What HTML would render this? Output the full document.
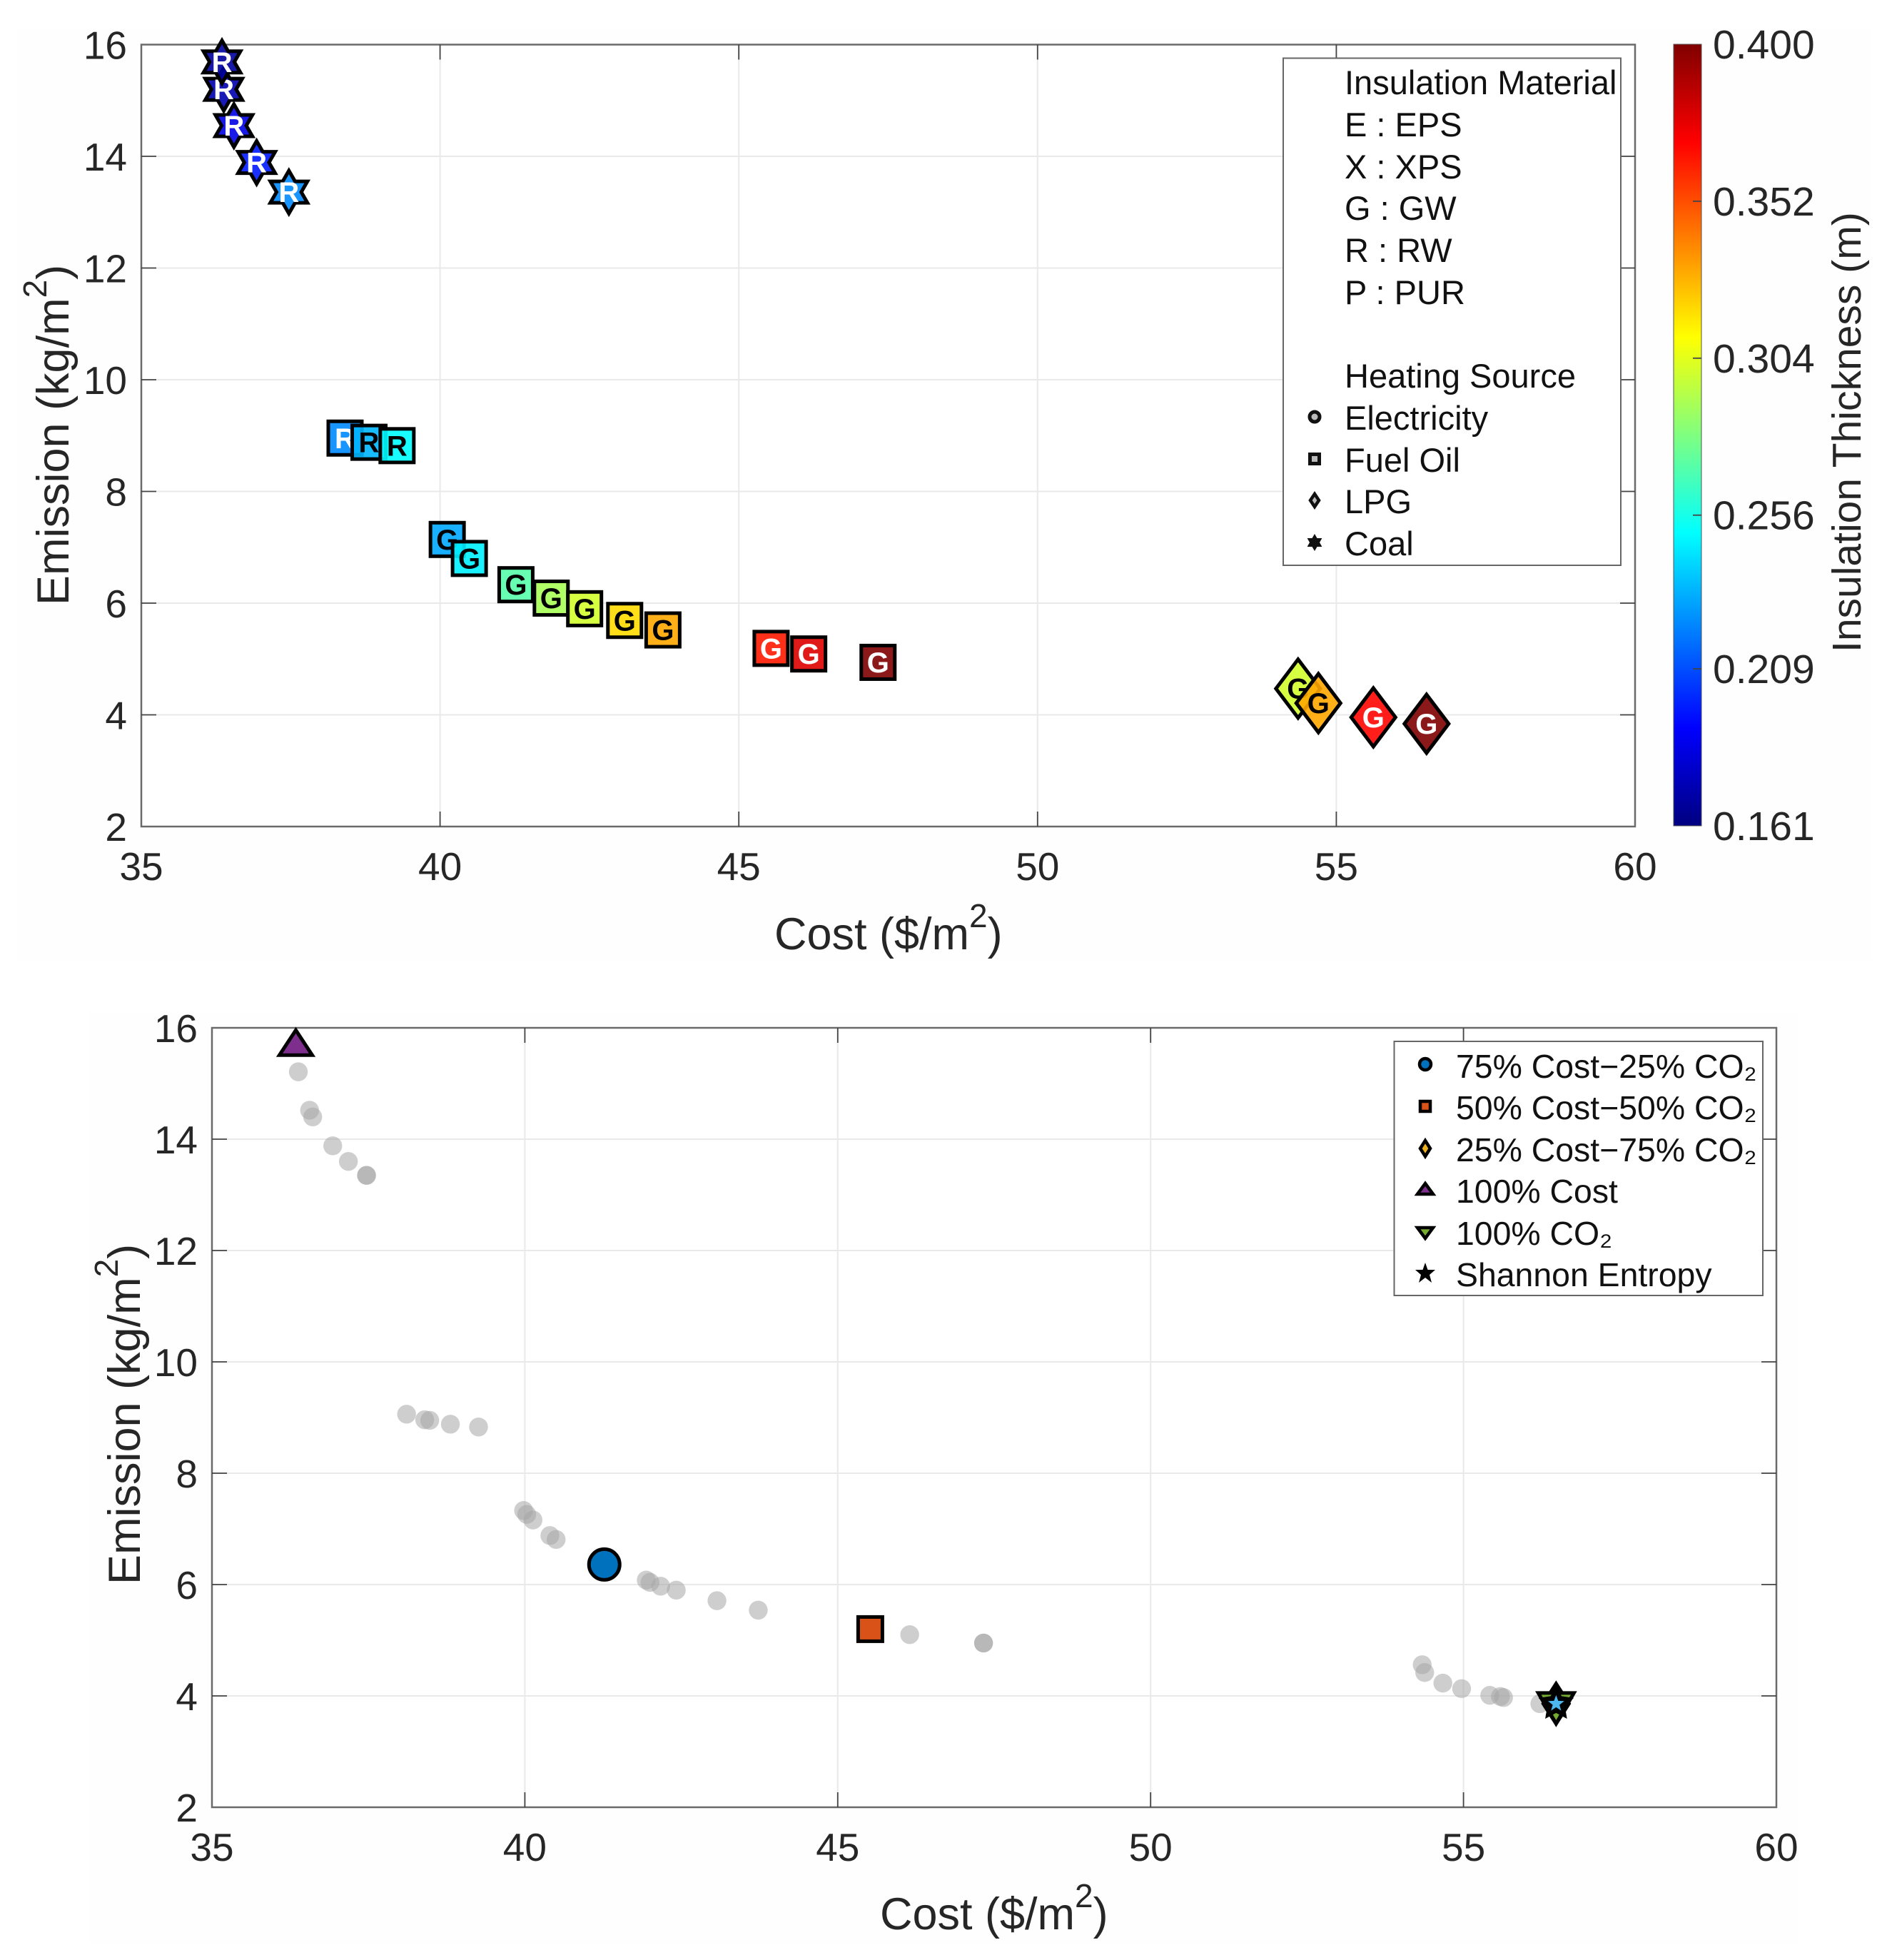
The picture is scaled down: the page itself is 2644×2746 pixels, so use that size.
<!DOCTYPE html>
<html lang="en">
<head>
<meta charset="utf-8">
<title>Cost versus emission Pareto charts</title>
<style>
html,body{margin:0;padding:0;background:#fff;}
svg{display:block;font-family:"Liberation Sans",Arial,sans-serif;}
.tick{font-size:55px;fill:#262626;}
.cbar-tick{font-size:57px;fill:#262626;}
.axis-title{font-size:63px;fill:#262626;}
.legend-text{font-size:47px;fill:#111;}
.legend-text-b{font-size:46.4px;fill:#111;}
</style>
</head>
<body>
<svg id="figure" xmlns="http://www.w3.org/2000/svg" width="2644" height="2746" viewBox="0 0 2644 2746">
  <defs>
    <linearGradient id="jet-gradient" x1="0" y1="1" x2="0" y2="0">
      <stop offset="0" stop-color="#000080"/>
      <stop offset="0.125" stop-color="#0000ff"/>
      <stop offset="0.375" stop-color="#00ffff"/>
      <stop offset="0.625" stop-color="#ffff00"/>
      <stop offset="0.875" stop-color="#ff0000"/>
      <stop offset="1" stop-color="#800000"/>
    </linearGradient>
  </defs>
  <rect x="25" y="39" width="2596" height="1308" fill="#fefefe"/>
  <rect x="125" y="1418" width="2395" height="1304" fill="#fefefe"/>
  <g id="top-plot"></g>
  <g id="bottom-plot"></g>

  <text class="axis-title" x="1085" y="1330">Cost ($/m<tspan font-size="46" dy="-31">2</tspan><tspan dy="31">)</tspan></text>
  <text class="axis-title" transform="translate(96,848) rotate(-90)">Emission (kg/m<tspan font-size="46" dy="-31">2</tspan><tspan dy="31">)</tspan></text>
  <text class="axis-title" x="1233" y="2703">Cost ($/m<tspan font-size="46" dy="-31">2</tspan><tspan dy="31">)</tspan></text>
  <text class="axis-title" transform="translate(196,2220) rotate(-90)">Emission (kg/m<tspan font-size="46" dy="-31">2</tspan><tspan dy="31">)</tspan></text>

  <rect x="2345" y="62" width="39" height="1095" fill="url(#jet-gradient)" stroke="#555" stroke-width="1"/>
  <g id="colorbar-ticks"></g>
  <text font-size="57" fill="#262626" transform="translate(2607,914) rotate(-90)">Insulation Thickness (m)</text>

  <g>
    <rect x="1798" y="81.5" width="473" height="710.5" fill="#fff" stroke="#666" stroke-width="2"/>
    <text class="legend-text" x="1884" y="132">Insulation Material</text>
    <text class="legend-text" x="1884" y="191">E : EPS</text>
    <text class="legend-text" x="1884" y="250">X : XPS</text>
    <text class="legend-text" x="1884" y="308">G : GW</text>
    <text class="legend-text" x="1884" y="367">R : RW</text>
    <text class="legend-text" x="1884" y="426">P : PUR</text>
    <text class="legend-text" x="1884" y="543">Heating Source</text>
    <text class="legend-text" x="1884" y="602">Electricity</text>
    <text class="legend-text" x="1884" y="661">Fuel Oil</text>
    <text class="legend-text" x="1884" y="719">LPG</text>
    <text class="legend-text" x="1884" y="778">Coal</text>
    <circle cx="1842" cy="584" r="7" fill="#bbb" stroke="#111" stroke-width="5"/>
    <rect x="1835.5" y="636.5" width="13" height="13" fill="#bbb" stroke="#111" stroke-width="5"/>
    <polygon points="1842,692 1848,701 1842,710 1836,701" fill="#bbb" stroke="#111" stroke-width="4.5"/>
    <polygon points="1842,748 1845.5,754 1852.4,754 1849,760 1852.4,766 1845.5,766 1842,772 1838.5,766 1831.6,766 1835,760 1831.6,754 1838.5,754" fill="#111"/>
  </g>

  <g>
    <rect x="1953.5" y="1459" width="516.5" height="356" fill="#fff" stroke="#666" stroke-width="2"/>
    <text class="legend-text-b" x="2040" y="1510">75% Cost−25% CO₂</text>
    <text class="legend-text-b" x="2040" y="1568">50% Cost−50% CO₂</text>
    <text class="legend-text-b" x="2040" y="1627">25% Cost−75% CO₂</text>
    <text class="legend-text-b" x="2040" y="1685">100% Cost</text>
    <text class="legend-text-b" x="2040" y="1744">100% CO₂</text>
    <text class="legend-text-b" x="2040" y="1802">Shannon Entropy</text>
    <circle cx="1997" cy="1491" r="8" fill="#0072bd" stroke="#000" stroke-width="4.5"/>
    <rect x="1990" y="1543" width="14" height="14" fill="#d95319" stroke="#000" stroke-width="4.5"/>
    <polygon points="1997,1598 2004,1609 1997,1620 1990,1609" fill="#edb120" stroke="#000" stroke-width="4.5"/>
    <polygon points="1997,1658 2008,1673 1986,1673" fill="#7e2f8e" stroke="#000" stroke-width="4.5"/>
    <polygon points="1986,1720 2008,1720 1997,1735" fill="#77ac30" stroke="#000" stroke-width="4.5"/>
    <polygon points="1997,1769 2000.5,1779 2011,1779 2003,1786 2006,1797 1997,1790 1988,1797 1991,1786 1983,1779 1993.5,1779" fill="#000"/>
  </g>
</svg>
<script>
// Axis tick values
const xTickValues = [35, 40, 45, 50, 55, 60];
const yTickValues = [2, 4, 6, 8, 10, 12, 14, 16];
const colorbarTickValues = [0.161, 0.209, 0.256, 0.304, 0.352, 0.4];
const colorbarTickLabels = ['0.161', '0.209', '0.256', '0.304', '0.352', '0.400'];

// Top chart, in drawing order
const topCost = [37.47, 36.93, 36.55, 36.38, 36.35, 38.41, 38.81, 39.28, 40.12, 40.49, 41.27, 41.86, 42.42, 43.09, 43.73, 45.54, 46.17, 47.33, 54.36, 54.70, 55.62, 56.51];
const topEmission = [13.36, 13.89, 14.55, 15.20, 15.69, 8.955, 8.88, 8.82, 7.14, 6.80, 6.33, 6.09, 5.90, 5.69, 5.52, 5.19, 5.09, 4.94, 4.47, 4.21, 3.955, 3.84];
const topThickness = [0.223, 0.197, 0.185, 0.172, 0.168, 0.223, 0.233, 0.25, 0.230, 0.247, 0.271, 0.290, 0.30, 0.319, 0.331, 0.364, 0.378, 0.4, 0.30, 0.331, 0.369, 0.4];
const topMaterial = ['R', 'R', 'R', 'R', 'R', 'R', 'R', 'R', 'G', 'G', 'G', 'G', 'G', 'G', 'G', 'G', 'G', 'G', 'G', 'G', 'G', 'G'];
const topSource = ['Coal', 'Coal', 'Coal', 'Coal', 'Coal', 'Fuel Oil', 'Fuel Oil', 'Fuel Oil', 'Fuel Oil', 'Fuel Oil', 'Fuel Oil', 'Fuel Oil', 'Fuel Oil', 'Fuel Oil', 'Fuel Oil', 'Fuel Oil', 'Fuel Oil', 'Fuel Oil', 'LPG', 'LPG', 'LPG', 'LPG'];

// Bottom chart, all solutions in grey
const allCost = [36.38, 36.56, 36.61, 36.93, 37.18, 37.47, 37.47, 38.11, 38.40, 38.48, 38.81, 39.26, 39.98, 40.03, 40.13, 40.40, 40.50, 41.94, 42.00, 42.17, 42.42, 43.07, 43.73, 46.15, 47.33, 47.33, 54.34, 54.38, 54.67, 54.97, 55.42, 55.59, 55.64, 56.22];
const allEmission = [15.21, 14.52, 14.40, 13.88, 13.60, 13.35, 13.35, 9.06, 8.96, 8.95, 8.88, 8.83, 7.33, 7.26, 7.16, 6.88, 6.81, 6.08, 6.04, 5.97, 5.90, 5.71, 5.54, 5.10, 4.95, 4.95, 4.56, 4.42, 4.23, 4.13, 4.01, 3.99, 3.97, 3.86];

// Bottom chart, highlighted weightings
const optimumNames = ['25-cost', '100-co2', 'shannon', '75-cost', '50-cost', '100-cost'];
const optimumCost = [56.48, 56.48, 56.48, 41.27, 45.52, 36.34];
const optimumEmission = [3.86, 3.86, 3.86, 6.36, 5.20, 15.74];

const SVG_NS = 'http://www.w3.org/2000/svg';

function topX(v) { return 198 + (v - 35) * (2291 - 198) / 25; }
function topY(v) { return 62.5 + (16 - v) * (1158 - 62.5) / 14; }
function bottomX(v) { return 297 + (v - 35) * (2489 - 297) / 25; }
function bottomY(v) { return 1440 + (16 - v) * (2532 - 1440) / 14; }
function colorbarY(v) { return 1157 - (v - 0.161) * 1095 / 0.239; }

function mk(parent, tag, attrs, content) {
  const node = document.createElementNS(SVG_NS, tag);
  Object.keys(attrs).forEach(function (k) { node.setAttribute(k, attrs[k]); });
  if (content !== undefined) node.textContent = content;
  parent.appendChild(node);
  return node;
}

function jet(thickness) {
  const t = (thickness - 0.161) / 0.239;
  const ramp = function (c) {
    return Math.max(0, Math.min(1, 1.5 - Math.abs(4 * t - c)));
  };
  const r = Math.round(255 * ramp(3));
  const g = Math.round(255 * ramp(2));
  const b = Math.round(255 * ramp(1));
  return 'rgb(' + r + ',' + g + ',' + b + ')';
}

function drawAxes(parent, x, y, left, right, top, bottom, yLabelRight) {
  const plotArea = mk(parent, 'rect', { x: left, y: top, width: right - left, height: bottom - top, fill: '#fff' });
  
  
  xTickValues.forEach(function (v) {
    if (v !== 35 && v !== 60) {
      const grid = mk(parent, 'line', { x1: x(v), x2: x(v), y1: top, y2: bottom, stroke: '#e9e9e9', 'stroke-width': 2 });
      
      
    }
  });
  yTickValues.forEach(function (v) {
    if (v !== 2 && v !== 16) {
      const grid = mk(parent, 'line', { x1: left, x2: right, y1: y(v), y2: y(v), stroke: '#e9e9e9', 'stroke-width': 2 });
      
      
    }
  });
  const frame = mk(parent, 'rect', { x: left, y: top, width: right - left, height: bottom - top, fill: 'none', stroke: '#6a6a6a', 'stroke-width': 2.5 });
  
  
  xTickValues.forEach(function (v) {
    if (v !== 35 && v !== 60) {
      const lower = mk(parent, 'line', { x1: x(v), x2: x(v), y1: bottom, y2: bottom - 21, stroke: '#444', 'stroke-width': 1.8 });
      
      
      const upper = mk(parent, 'line', { x1: x(v), x2: x(v), y1: top, y2: top + 21, stroke: '#444', 'stroke-width': 1.8 });
      
      
    }
    const label = mk(parent, 'text', { x: x(v), y: bottom + 75, 'text-anchor': 'middle', class: 'tick' }, String(v));
    
    
  });
  yTickValues.forEach(function (v) {
    if (v !== 2 && v !== 16) {
      const leftTick = mk(parent, 'line', { x1: left, x2: left + 21, y1: y(v), y2: y(v), stroke: '#444', 'stroke-width': 1.8 });
      
      
      const rightTick = mk(parent, 'line', { x1: right, x2: right - 21, y1: y(v), y2: y(v), stroke: '#444', 'stroke-width': 1.8 });
      
      
    }
    const label = mk(parent, 'text', { x: yLabelRight, y: y(v) + 20, 'text-anchor': 'end', class: 'tick' }, String(v));
    
    
  });
}

function pointList(cx, cy, offsets) {
  return offsets.map(function (o) { return (cx + o[0]) + ',' + (cy + o[1]); }).join(' ');
}

function hexagramOffsets(outer) {
  const inner = outer / Math.sqrt(3);
  const out = [];
  for (let i = 0; i < 12; i++) {
    const r = i % 2 === 0 ? outer : inner;
    const a = -Math.PI / 2 + i * Math.PI / 6;
    out.push([r * Math.cos(a), r * Math.sin(a)]);
  }
  return out;
}

function pentagramOffsets(outer, inner) {
  const out = [];
  for (let i = 0; i < 10; i++) {
    const r = i % 2 === 0 ? outer : inner;
    const a = -Math.PI / 2 + i * Math.PI / 5;
    out.push([r * Math.cos(a), r * Math.sin(a)]);
  }
  return out;
}

// Top chart
const topGroup = document.getElementById('top-plot');
drawAxes(topGroup, topX, topY, 198, 2291, 62.5, 1158, 178);
topCost.forEach(function (c, i) {
  const cx = topX(c);
  const cy = topY(topEmission[i]);
  const fill = jet(topThickness[i]);
  const style = { fill: fill, 'fill-opacity': 0.9, stroke: '#000', 'stroke-width': 5, 'stroke-linejoin': 'miter', 'stroke-miterlimit': 10 };
  let mark;
  if (topSource[i] === 'Coal') {
    mark = mk(topGroup, 'polygon', Object.assign({ points: pointList(cx, cy, hexagramOffsets(30)) }, style));
    
    
  } else if (topSource[i] === 'LPG') {
    mark = mk(topGroup, 'polygon', Object.assign({ points: pointList(cx, cy, [[0, -41], [31, 0], [0, 41], [-31, 0]]) }, style));
    
    
  } else {
    mark = mk(topGroup, 'rect', Object.assign({ x: cx - 23.5, y: cy - 23.5, width: 47, height: 47 }, style));
    
    
  }
  const isPale = topThickness[i] > 0.225 && topThickness[i] < 0.36;
  const letter = mk(topGroup, 'text', { x: cx, y: cy + 14, 'text-anchor': 'middle', 'font-size': 40, 'font-weight': 'bold', fill: isPale ? '#000' : '#fff' }, topMaterial[i]);
  
  
});

// Colorbar ticks
const colorbarGroup = document.getElementById('colorbar-ticks');
colorbarTickValues.forEach(function (v, i) {
  if (i > 0 && i < colorbarTickValues.length - 1) {
    const mark = mk(colorbarGroup, 'line', { x1: 2372, x2: 2384, y1: colorbarY(v), y2: colorbarY(v), stroke: '#444', 'stroke-width': 1.8 });
    
    
  }
  const label = mk(colorbarGroup, 'text', { x: 2400, y: colorbarY(v) + 20, class: 'cbar-tick' }, colorbarTickLabels[i]);
  
  
});

// Bottom chart
const bottomGroup = document.getElementById('bottom-plot');
drawAxes(bottomGroup, bottomX, bottomY, 297, 2489, 1440, 2532, 277);
allCost.forEach(function (c, i) {
  const dot = mk(bottomGroup, 'circle', { cx: bottomX(c), cy: bottomY(allEmission[i]), r: 13.2, fill: '#a6a6a6', 'fill-opacity': 0.55 });
  
  
});
optimumNames.forEach(function (name, i) {
  const cx = bottomX(optimumCost[i]);
  const cy = bottomY(optimumEmission[i]);
  const edge = { stroke: '#000', 'stroke-width': 5, 'stroke-miterlimit': 10 };
  if (name === '25-cost') {
    const m = mk(bottomGroup, 'polygon', Object.assign({ points: pointList(cx, cy, [[0, -28], [18, 0], [0, 28], [-18, 0]]), fill: '#edb120' }, edge));
    
    
  } else if (name === '100-co2') {
    const m = mk(bottomGroup, 'polygon', Object.assign({ points: pointList(cx, cy, [[-25, -15], [25, -15], [0, 28]]), fill: '#77ac30' }, edge));
    
    
  } else if (name === 'shannon') {
    const back = mk(bottomGroup, 'polygon', { points: pointList(cx, cy, pentagramOffsets(26, 13)), fill: '#000' });
    
    
    const front = mk(bottomGroup, 'polygon', { points: pointList(cx, cy, pentagramOffsets(12, 5)), fill: '#4db8f0' });
    
    
  } else if (name === '75-cost') {
    const m = mk(bottomGroup, 'circle', Object.assign({ cx: cx, cy: cy, r: 21.5, fill: '#0072bd' }, edge));
    
    
  } else if (name === '50-cost') {
    const m = mk(bottomGroup, 'rect', Object.assign({ x: cx - 17, y: cy - 17, width: 34, height: 34, fill: '#d95319' }, edge));
    
    
  } else {
    const m = mk(bottomGroup, 'polygon', Object.assign({ points: pointList(cx, cy, [[0, -17], [23, 18], [-23, 18]]), fill: '#7e2f8e' }, edge));
    
    
  }
});
</script>
</body>
</html>
